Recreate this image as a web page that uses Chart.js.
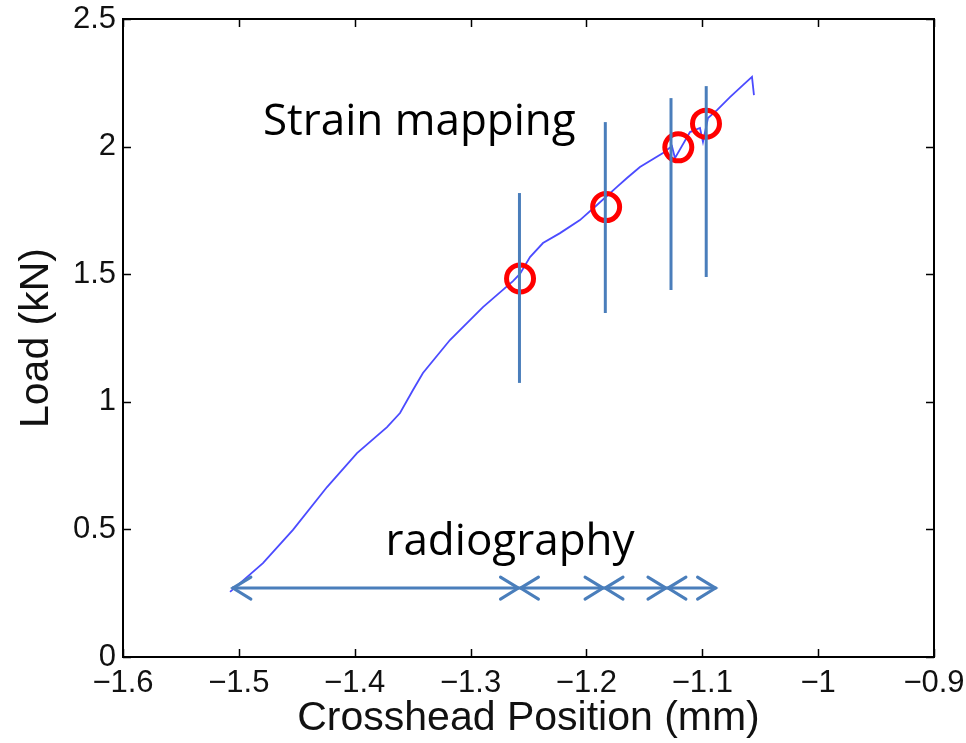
<!DOCTYPE html>
<html>
<head>
<meta charset="utf-8">
<script src="https://cdn.jsdelivr.net/npm/chart.js@4/dist/chart.umd.min.js"></script>
<style>
  html, body { margin: 0; padding: 0; background: #fff; }
  #wrap { width: 966px; height: 743px; }
</style>
</head>
<body>
<div id="wrap"><canvas id="load-chart" width="966" height="743"></canvas></div>
<script>
// Load vs crosshead position trace
const curveX = [-1.5076, -1.4792, -1.4533, -1.4239, -1.398, -1.3721, -1.3609, -1.3497, -1.3411, -1.3178,
    -1.2893, -1.2634, -1.2574, -1.2487, -1.2375, -1.2228, -1.2056, -1.1909, -1.1736, -1.165,
    -1.1538, -1.1339, -1.1262, -1.1236, -1.1106, -1.102, -1.0994, -1.0951, -1.0873, -1.0761,
    -1.0649, -1.0571, -1.0554];
const curveY = [0.255, 0.368, 0.498, 0.666, 0.799, 0.901, 0.956, 1.046, 1.113, 1.242,
    1.371, 1.473, 1.501, 1.567, 1.622, 1.661, 1.712, 1.771, 1.842, 1.877,
    1.920, 1.975, 2.002, 1.955, 2.057, 2.073, 2.018, 2.112, 2.143, 2.194,
    2.241, 2.273, 2.202];

// Strain mapping stops (red rings) and their marker lines
const stopX = [-1.2573, -1.183, -1.1207, -1.0968];
const stopY = [1.483, 1.763, 1.997, 2.090];
const markX = [-1.2578, -1.1837, -1.127, -1.0966];
const markLo = [1.074, 1.348, 1.438, 1.489];
const markHi = [1.818, 2.096, 2.190, 2.237];

// Radiography intervals (double arrows)
const arrowFrom = [-1.506, -1.2578, -1.1848, -1.1305];
const arrowTo = [-1.2578, -1.1848, -1.1305, -1.0877];
const arrowY = 0.27;

const xTicks = [-1.6, -1.5, -1.4, -1.3, -1.2, -1.1, -1.0, -0.9];
const yTicks = [0, 0.5, 1, 1.5, 2, 2.5];

const notes = [
    { text: 'Strain mapping', x: -1.4792, y: 2.045 },
    { text: 'radiography', x: -1.3735, y: 0.400 }
];

const BLUE = '#4a7ebb';
const AXIS_FONT = '"Liberation Sans", Arial, sans-serif';

function fmtTick(v) {
    const r = Math.round(v * 10) / 10;
    const s = String(Math.abs(r));
    return r < 0 ? '\u2212' + s : s;
}

// box around the plot, inward ticks on all four sides, arrowheads and notes
const framePlugin = {
    id: 'frame',
    afterDatasetsDraw(chart) {
        const { ctx, chartArea: a, scales: { x, y } } = chart;
        ctx.save();

        // arrowheads at both ends of each radiography interval
        ctx.strokeStyle = BLUE;
        ctx.lineWidth = 3;
        ctx.lineCap = 'round';
        const py = y.getPixelForValue(arrowY);
        arrowFrom.forEach((from, i) => {
            const p0 = x.getPixelForValue(from);
            const p1 = x.getPixelForValue(arrowTo[i]);
            ctx.beginPath();
            ctx.moveTo(p0 + 19, py - 11); ctx.lineTo(p0 + 1, py); ctx.lineTo(p0 + 19, py + 11);
            ctx.moveTo(p1 - 19, py - 11); ctx.lineTo(p1 - 1, py); ctx.lineTo(p1 - 19, py + 11);
            ctx.stroke();
        });

        // text notes
        ctx.fillStyle = '#000';
        ctx.font = '44px "Open Sans", Lato, sans-serif';
        ctx.textBaseline = 'alphabetic';
        ctx.textAlign = 'left';
        notes.forEach(n => {
            ctx.fillText(n.text, x.getPixelForValue(n.x), y.getPixelForValue(n.y));
        });

        // frame
        ctx.strokeStyle = '#000';
        ctx.lineCap = 'butt';
        ctx.lineWidth = 2;
        ctx.strokeRect(a.left, a.top, a.right - a.left, a.bottom - a.top);

        ctx.lineWidth = 1.5;
        ctx.beginPath();
        xTicks.forEach(v => {
            const px = Math.round(x.getPixelForValue(v)) + 0.5;
            ctx.moveTo(px, a.bottom); ctx.lineTo(px, a.bottom - 8);
            ctx.moveTo(px, a.top); ctx.lineTo(px, a.top + 8);
        });
        yTicks.forEach(v => {
            const pv = Math.round(y.getPixelForValue(v)) + 0.5;
            ctx.moveTo(a.left, pv); ctx.lineTo(a.left + 8, pv);
            ctx.moveTo(a.right, pv); ctx.lineTo(a.right - 8, pv);
        });
        ctx.stroke();
        ctx.restore();
    }
};

const datasets = [];

markX.forEach((mx, i) => {
    datasets.push({
        type: 'line',
        data: [{ x: mx, y: markLo[i] }, { x: mx, y: markHi[i] }],
        borderColor: BLUE,
        borderWidth: 3,
        pointRadius: 0,
        order: 1
    });
});

datasets.push({
    type: 'scatter',
    data: stopX.map((sx, i) => ({ x: sx, y: stopY[i] })),
    borderColor: '#ff0000',
    backgroundColor: 'rgba(0,0,0,0)',
    pointRadius: 13.5,
    pointBorderWidth: 5,
    order: 2
});

arrowFrom.forEach((from, i) => {
    datasets.push({
        type: 'line',
        data: [{ x: from, y: arrowY }, { x: arrowTo[i], y: arrowY }],
        borderColor: BLUE,
        borderWidth: 3,
        pointRadius: 0,
        order: 3
    });
});

datasets.push({
    type: 'line',
    data: curveX.map((cx, i) => ({ x: cx, y: curveY[i] })),
    borderColor: 'rgba(30,30,255,0.8)',
    borderWidth: 1.8,
    pointRadius: 0,
    tension: 0,
    order: 4
});

new Chart(document.getElementById('load-chart'), {
    type: 'scatter',
    data: { datasets },
    options: {
        responsive: false,
        animation: false,
        events: [],
        layout: { padding: { top: 19, right: 32, bottom: 0, left: 0 } },
        plugins: { legend: { display: false }, tooltip: { enabled: false } },
        scales: {
            x: {
                type: 'linear',
                min: -1.6, max: -0.9,
                grid: { display: false, drawTicks: false },
                border: { display: false },
                afterBuildTicks: s => { s.ticks = xTicks.map(v => ({ value: v })); },
                afterFit: s => { s.height = 86; s.paddingLeft = 0; s.paddingRight = 0; },
                ticks: {
                    padding: 8,
                    color: '#111',
                    font: { family: AXIS_FONT, size: 31 },
                    maxRotation: 0,
                    callback: v => fmtTick(v)
                },
                title: {
                    display: true,
                    text: 'Crosshead Position (mm)',
                    color: '#111',
                    font: { family: AXIS_FONT, size: 41 },
                    padding: { top: 0, bottom: 0 }
                }
            },
            y: {
                type: 'linear',
                min: 0, max: 2.5,
                grid: { display: false, drawTicks: false },
                border: { display: false },
                afterBuildTicks: s => { s.ticks = yTicks.map(v => ({ value: v })); },
                afterFit: s => { s.width = 123; s.paddingTop = 0; s.paddingBottom = 0; },
                ticks: {
                    padding: 7,
                    color: '#111',
                    font: { family: AXIS_FONT, size: 31 },
                    callback: v => fmtTick(v)
                },
                title: {
                    display: true,
                    text: 'Load (kN)',
                    color: '#111',
                    font: { family: AXIS_FONT, size: 41 },
                    padding: { top: 12, bottom: 0 }
                }
            }
        }
    },
    plugins: [framePlugin]
});
</script>
</body>
</html>
